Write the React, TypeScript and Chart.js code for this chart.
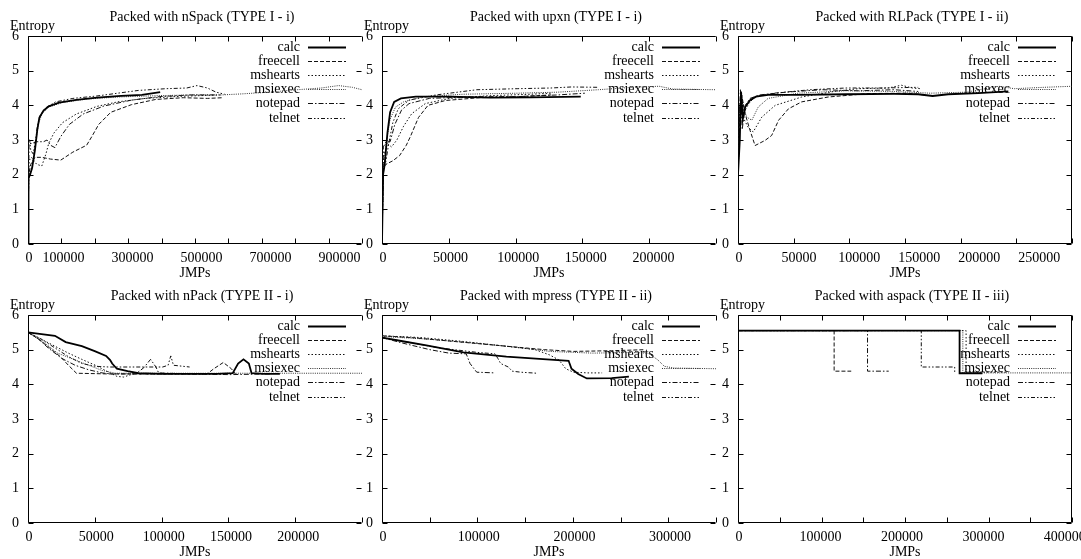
import React, { useEffect, useRef } from 'react';
import { Chart, registerables } from 'chart.js';

Chart.register(...registerables);

const FONT = '"Liberation Serif", "Times New Roman", Times, serif';

// ---------- data ----------
const seriesNames = ['calc', 'freecell', 'mshearts', 'msiexec', 'notepad', 'telnet'];

const panelTitles = [
  'Packed with nSpack (TYPE I - i)',
  'Packed with upxn (TYPE I - i)',
  'Packed with RLPack (TYPE I - ii)',
  'Packed with nPack (TYPE II - i)',
  'Packed with mpress (TYPE II - ii)',
  'Packed with aspack (TYPE II - iii)',
];

const xMaxValues = [968000, 247000, 278000, 248000, 349000, 410000];
const xTickSteps = [100000, 50000, 50000, 50000, 50000, 50000];

const nspackTickLabels = [0, 100000, 300000, 500000, 700000, 900000];
const upxnTickLabels = [0, 50000, 100000, 150000, 200000];
const rlpackTickLabels = [0, 50000, 100000, 150000, 200000, 250000];
const npackTickLabels = [0, 50000, 100000, 150000, 200000];
const mpressTickLabels = [0, 100000, 200000, 300000];
const aspackTickLabels = [0, 100000, 200000, 300000, 400000];
const yTickLabels = [0, 1, 2, 3, 4, 5, 6];

// nSpack (TYPE I - i)
const nspackCalc = [[0, 0], [1500, 1.9], [6000, 2.0], [12000, 2.2], [20000, 2.7], [27000, 3.3], [33000, 3.65], [45000, 3.85], [60000, 3.97], [90000, 4.08], [140000, 4.16], [200000, 4.22], [270000, 4.27], [330000, 4.3], [383000, 4.38]];
const nspackFreecell = [[0, 0], [2000, 2.0], [8000, 2.3], [20000, 2.5], [40000, 2.5], [65000, 2.45], [95000, 2.42], [130000, 2.65], [170000, 2.85], [185000, 3.1], [205000, 3.45], [240000, 3.8], [300000, 4.02], [370000, 4.17], [450000, 4.22], [520000, 4.2], [565000, 4.22]];
const nspackMshearts = [[0, 0], [2500, 2.4], [10000, 2.5], [25000, 2.3], [40000, 2.25], [52000, 2.6], [60000, 2.9], [75000, 3.2], [100000, 3.5], [140000, 3.75], [200000, 3.97], [260000, 4.1], [340000, 4.2], [440000, 4.26], [560000, 4.3]];
const nspackMsiexec = [[0, 0], [2000, 2.0], [10000, 2.1], [22000, 2.9], [30000, 3.45], [40000, 3.75], [60000, 3.95], [100000, 4.08], [170000, 4.18], [260000, 4.24], [380000, 4.28], [480000, 4.3], [560000, 4.3], [620000, 4.33], [700000, 4.38], [780000, 4.45], [850000, 4.5], [900000, 4.57], [940000, 4.52], [968000, 4.45]];
const nspackNotepad = [[0, 0], [3000, 2.9], [10000, 2.9], [25000, 2.95], [45000, 2.95], [55000, 3.0], [65000, 2.85], [78000, 2.78], [95000, 3.1], [120000, 3.45], [160000, 3.75], [220000, 3.98], [300000, 4.15], [380000, 4.25], [470000, 4.3], [540000, 4.3]];
const nspackTelnet = [[0, 0], [1500, 3.0], [5000, 3.0], [8000, 2.7], [15000, 2.6], [22000, 3.0], [28000, 3.45], [35000, 3.7], [50000, 3.92], [80000, 4.1], [130000, 4.2], [200000, 4.27], [260000, 4.35], [320000, 4.43], [400000, 4.48], [460000, 4.5], [490000, 4.57], [520000, 4.5], [545000, 4.38], [570000, 4.32]];

// upxn (TYPE I - i)
const upxnCalc = [[0, 0], [800, 2.0], [2000, 2.3], [4000, 3.2], [6000, 3.8], [9000, 4.1], [14000, 4.2], [25000, 4.25], [50000, 4.25], [80000, 4.22], [110000, 4.23], [147000, 4.25]];
const upxnFreecell = [[0, 0], [1000, 2.2], [3000, 2.3], [8000, 2.4], [13000, 2.55], [18000, 2.85], [21000, 3.1], [27000, 3.65], [34000, 4.0], [47000, 4.14], [72000, 4.22], [100000, 4.25], [125000, 4.3]];
const upxnMshearts = [[0, 0], [1000, 2.5], [4000, 2.9], [7000, 2.8], [11000, 3.0], [16000, 3.4], [22000, 3.76], [32000, 4.05], [50000, 4.2], [80000, 4.28], [110000, 4.32], [125000, 4.35]];
const upxnMsiexec = [[0, 0], [1000, 2.0], [3000, 2.9], [6000, 3.6], [10000, 3.95], [16000, 4.1], [30000, 4.25], [60000, 4.32], [100000, 4.35], [130000, 4.38], [160000, 4.45], [185000, 4.52], [205000, 4.55], [215000, 4.47], [247000, 4.45]];
const upxnNotepad = [[0, 0], [1000, 2.8], [3000, 2.95], [6000, 2.95], [9500, 3.45], [14400, 3.86], [20000, 4.05], [35000, 4.2], [70000, 4.25], [100000, 4.25], [130000, 4.3], [150000, 4.35]];
const upxnTelnet = [[0, 0], [800, 2.3], [2500, 2.3], [5000, 2.9], [8000, 3.5], [12000, 3.9], [20000, 4.15], [40000, 4.3], [70000, 4.45], [100000, 4.48], [125000, 4.5], [140000, 4.53], [160000, 4.52]];

// RLPack (TYPE I - ii)
const rlpackCalc = [[0, 2.0], [1500, 3.0], [2500, 4.4], [4000, 3.6], [6000, 3.95], [10000, 4.15], [15000, 4.25], [25000, 4.3], [50000, 4.3], [90000, 4.32], [130000, 4.33], [150000, 4.32], [162000, 4.27], [175000, 4.32], [200000, 4.35], [225000, 4.4]];
const rlpackFreecell = [[0, 2.0], [1500, 3.5], [3000, 4.3], [5900, 3.76], [10000, 3.28], [14200, 2.84], [22600, 2.99], [28000, 3.13], [33800, 3.57], [42000, 3.9], [53000, 4.1], [75000, 4.24], [109000, 4.34], [140000, 4.35], [155000, 4.3]];
const rlpackMshearts = [[0, 2.0], [1200, 3.8], [2500, 4.3], [5000, 3.6], [8400, 3.37], [12600, 3.23], [19800, 3.66], [31000, 4.0], [53000, 4.24], [80000, 4.4], [100000, 4.48], [125000, 4.5], [136000, 4.58], [145000, 4.5], [152000, 4.48]];
const rlpackMsiexec = [[0, 2.0], [1500, 3.4], [3000, 4.35], [5000, 3.9], [7300, 3.66], [11500, 3.57], [16800, 3.95], [25000, 4.2], [50000, 4.35], [90000, 4.42], [130000, 4.4], [160000, 4.35], [190000, 4.38], [217000, 4.55], [230000, 4.48], [255000, 4.52], [278000, 4.55]];
const rlpackNotepad = [[0, 2.0], [1000, 3.5], [2000, 4.45], [3500, 3.3], [6000, 4.0], [10000, 4.2], [18000, 4.3], [40000, 4.38], [70000, 4.45], [100000, 4.42], [130000, 4.45], [150000, 4.4]];
const rlpackTelnet = [[0, 2.0], [1500, 4.0], [3000, 4.2], [5000, 3.8], [9000, 4.05], [14000, 4.25], [30000, 4.35], [60000, 4.45], [90000, 4.5], [120000, 4.5], [150000, 4.52]];

// nPack (TYPE II - i)
const npackCalc = [[0, 5.5], [10000, 5.45], [20000, 5.4], [28000, 5.22], [40000, 5.1], [50000, 4.95], [58000, 4.82], [61000, 4.7], [62500, 4.6], [66000, 4.45], [74000, 4.38], [82000, 4.32], [100000, 4.3], [140000, 4.3], [152000, 4.32], [156000, 4.6], [160000, 4.72], [164000, 4.6], [166000, 4.32], [175000, 4.3], [187000, 4.3]];
const npackFreecell = [[0, 5.5], [8000, 5.3], [16000, 5.05], [24000, 4.8], [30000, 4.55], [36000, 4.32], [60000, 4.3], [100000, 4.3], [133000, 4.3], [138000, 4.45], [145000, 4.63], [151000, 4.45], [154000, 4.3]];
const npackMshearts = [[0, 5.5], [10000, 5.3], [20000, 5.1], [30000, 4.9], [40000, 4.72], [50000, 4.55], [60000, 4.35], [66000, 4.23], [71000, 4.21], [78000, 4.3], [110000, 4.3], [130000, 4.3]];
const npackMsiexec = [[0, 5.5], [12000, 5.2], [22000, 4.9], [32000, 4.75], [45000, 4.55], [55000, 4.4], [65000, 4.32], [100000, 4.32], [150000, 4.32], [200000, 4.32], [248000, 4.32]];
const npackNotepad = [[0, 5.5], [8000, 5.3], [15000, 5.05], [25000, 4.75], [35000, 4.55], [45000, 4.42], [55000, 4.33], [62000, 4.3], [80000, 4.3], [86000, 4.48], [91000, 4.72], [95000, 4.5], [97000, 4.33], [120000, 4.3], [150000, 4.28], [180000, 4.3]];
const npackTelnet = [[0, 5.5], [10000, 5.3], [20000, 5.05], [30000, 4.8], [40000, 4.6], [50000, 4.52], [60000, 4.5], [80000, 4.5], [100000, 4.5], [104000, 4.55], [106000, 4.82], [108000, 4.55], [120000, 4.5]];

// mpress (TYPE II - ii)
const mpressCalc = [[0, 5.35], [20000, 5.25], [45000, 5.13], [85000, 4.92], [130000, 4.8], [172000, 4.72], [195000, 4.68], [198000, 4.45], [205000, 4.3], [214000, 4.17], [240000, 4.18], [258000, 4.22]];
const mpressFreecell = [[0, 5.4], [30000, 5.35], [70000, 5.25], [110000, 5.15], [150000, 5.05], [170000, 5.0], [200000, 4.95], [240000, 4.97], [275000, 5.0]];
const mpressMshearts = [[0, 5.4], [40000, 5.35], [80000, 5.25], [120000, 5.13], [160000, 5.0], [175000, 4.85], [185000, 4.7], [192000, 4.45], [200000, 4.35], [215000, 4.33], [230000, 4.33]];
const mpressMsiexec = [[0, 5.38], [50000, 5.3], [100000, 5.18], [140000, 5.07], [175000, 4.95], [220000, 4.9], [260000, 4.92], [278000, 4.9], [288000, 4.71], [295000, 4.52], [305000, 4.47], [349000, 4.45]];
const mpressNotepad = [[0, 5.35], [20000, 5.2], [50000, 5.0], [70000, 4.9], [88000, 4.88], [92000, 4.6], [97000, 4.42], [99000, 4.35], [118000, 4.33]];
const mpressTelnet = [[0, 5.35], [30000, 5.2], [60000, 5.05], [100000, 4.92], [118000, 4.88], [121000, 4.75], [124000, 4.6], [132000, 4.5], [136000, 4.38], [145000, 4.35], [162000, 4.32]];

// aspack (TYPE II - iii)
const aspackCalc = [[0, 5.55], [272000, 5.55], [272000, 4.32], [300000, 4.32]];
const aspackFreecell = [[0, 5.55], [118000, 5.55], [118000, 4.38], [139000, 4.38]];
const aspackMshearts = [[0, 5.55], [280000, 5.55], [280000, 4.35], [330000, 4.35]];
const aspackMsiexec = [[0, 5.55], [276000, 5.55], [276000, 4.33], [410000, 4.33]];
const aspackNotepad = [[0, 5.55], [159000, 5.55], [159000, 4.38], [185000, 4.38]];
const aspackTelnet = [[0, 5.55], [225000, 5.55], [225000, 4.5], [266000, 4.5], [266000, 4.35]];

const panelSeries = [
  [nspackCalc, nspackFreecell, nspackMshearts, nspackMsiexec, nspackNotepad, nspackTelnet],
  [upxnCalc, upxnFreecell, upxnMshearts, upxnMsiexec, upxnNotepad, upxnTelnet],
  [rlpackCalc, rlpackFreecell, rlpackMshearts, rlpackMsiexec, rlpackNotepad, rlpackTelnet],
  [npackCalc, npackFreecell, npackMshearts, npackMsiexec, npackNotepad, npackTelnet],
  [mpressCalc, mpressFreecell, mpressMshearts, mpressMsiexec, mpressNotepad, mpressTelnet],
  [aspackCalc, aspackFreecell, aspackMshearts, aspackMsiexec, aspackNotepad, aspackTelnet],
];
const panelTickLabels = [nspackTickLabels, upxnTickLabels, rlpackTickLabels, npackTickLabels, mpressTickLabels, aspackTickLabels];

// ---------- styles ----------
const lineColors = ['#000000', '#111111', '#111111', '#333333', '#111111', '#111111'];
const lineWidths = [1.8, 1, 1, 1, 1, 1];
const lineDashes = [[], [4, 2], [1.5, 2], [1, 1.2], [5, 2, 1.5, 2], [4, 2, 1.5, 2, 1.5, 2]];

const CANVAS_W = 404;
const CANVAS_H = 290;
const colLefts = [0, 354, 710];
const rowTops = [0, 279];
const rightBorders = [false, false, true, false, false, true];

function makeFramePlugin(xLabelValues: number[], rightBorder: boolean, yTitle: string) {
  return {
    id: 'gnuframe',
    beforeDatasetsDraw(chart: any) {
      const { ctx, chartArea: a, scales } = chart;
      const xs = scales.x;
      const ys = scales.y;
      ctx.save();
      ctx.strokeStyle = '#000';
      ctx.lineWidth = 1;
      ctx.setLineDash([]);
      const L = a.left + 0.5;
      const R = a.right - 0.5;
      const T = a.top + 0.5;
      const B = a.bottom - 0.5;
      const tl = 5;
      ctx.beginPath();
      ctx.moveTo(R, T);
      ctx.lineTo(L, T);
      ctx.lineTo(L, B);
      ctx.lineTo(R, B);
      if (rightBorder) ctx.lineTo(R, T);
      for (const t of xs.ticks) {
        const px = Math.round(xs.getPixelForValue(t.value)) + 0.5;
        ctx.moveTo(px, B);
        ctx.lineTo(px, B - tl);
        ctx.moveTo(px, T);
        ctx.lineTo(px, T + tl);
      }
      for (const t of ys.ticks) {
        const py = Math.round(ys.getPixelForValue(t.value)) + 0.5;
        ctx.moveTo(L, py);
        ctx.lineTo(L + tl, py);
        ctx.moveTo(R, py);
        ctx.lineTo(R - tl, py);
      }
      ctx.stroke();

      ctx.fillStyle = '#000';
      ctx.font = `14px ${FONT}`;
      ctx.textBaseline = 'middle';
      ctx.textAlign = 'left';
      ctx.fillText(yTitle, a.left - 18, a.top - 10);

      // x tick labels, positioned through the x scale
      ctx.textAlign = 'center';
      for (let k = 0; k < xLabelValues.length; k++) {
        const v = xLabelValues[k];
        const px = xs.getPixelForValue(v) + 1;
        ctx.fillText(v.toFixed(0), px, a.bottom + 14.5);
      }

      chart.data.datasets.forEach((ds: any, i: number) => {
        const yy = Math.round(a.top + 11 + i * 14.1) + 0.5;
        ctx.textAlign = 'right';
        ctx.fillStyle = '#000';
        ctx.fillText(ds.label, a.right - 62, yy);
        ctx.setLineDash(ds.borderDash || []);
        ctx.lineWidth = ds.borderWidth;
        ctx.strokeStyle = ds.borderColor;
        ctx.beginPath();
        ctx.moveTo(a.right - 54, yy);
        ctx.lineTo(a.right - 16, yy);
        ctx.stroke();
      });
      ctx.restore();
    },
  };
}

function Panel({ index }: { index: number }) {
  const ref = useRef<HTMLCanvasElement>(null);
  useEffect(() => {
    const font = { family: FONT, size: 14, weight: 'normal' as const };
    const chart = new Chart(ref.current!, {
      type: 'line',
      data: {
        datasets: panelSeries[index].map((s, i) => ({
          label: seriesNames[i],
          data: s.map(([x, y]) => ({ x, y })),
          borderColor: lineColors[i],
          borderWidth: lineWidths[i],
          borderDash: lineDashes[i],
          pointRadius: 0,
          tension: 0,
          fill: false,
          xAxisID: 'x',
          yAxisID: 'y',
        })),
      },
      options: {
        animation: false,
        responsive: false,
        maintainAspectRatio: false,
        layout: { padding: 0 },
        events: [],
        plugins: {
          legend: { display: false },
          tooltip: { enabled: false },
          title: {
            display: true,
            text: panelTitles[index],
            font,
            color: '#000',
            padding: { top: 8.8, bottom: 10.4 },
          },
        } as any,
        scales: {
          x: {
            type: 'linear',
            position: 'bottom',
            min: 0,
            max: xMaxValues[index],
            grid: { display: false, drawTicks: false, tickLength: 0 },
            border: { display: false },
            ticks: {
              display: false,
              stepSize: xTickSteps[index],
              autoSkip: false,
              maxRotation: 0,
              minRotation: 0,
              includeBounds: false,
            },
            title: { display: true, text: 'JMPs', font, color: '#000', padding: { top: 0, bottom: 8 } },
            afterFit: (s: any) => { s.height = 46; },
          },
          y: {
            type: 'linear',
            position: 'left',
            min: 0,
            max: 6,
            grid: { display: false, drawTicks: false, tickLength: 0 },
            border: { display: false },
            ticks: {
              stepSize: 1,
              padding: 9,
              font,
              color: '#000',
              callback: (v: any) => (yTickLabels.includes(Number(v)) ? String(v) : ''),
            },
            afterFit: (s: any) => { s.width = 28; },
          },
          y2: {
            type: 'linear',
            position: 'right',
            display: true,
            grid: { display: false, drawTicks: false, tickLength: 0 },
            border: { display: false },
            ticks: { display: false },
            afterFit: (s: any) => { s.width = CANVAS_W - 362; },
          },
        } as any,
      },
      plugins: [makeFramePlugin(panelTickLabels[index], rightBorders[index], 'Entropy')],
    });
    return () => chart.destroy();
  }, [index]);
  const col = index % 3;
  const row = Math.floor(index / 3);
  return (
    <canvas
      ref={ref}
      width={CANVAS_W}
      height={CANVAS_H}
      style={{ position: 'absolute', left: colLefts[col], top: rowTops[row], width: CANVAS_W, height: CANVAS_H, display: 'block' }}
    />
  );
}

export default function App() {
  return (
    <div style={{ position: 'fixed', left: 0, top: 0, width: 1081, height: 559, overflow: 'hidden', background: '#fff' }}>
      {[0, 1, 2, 3, 4, 5].map((i) => (
        <Panel key={i} index={i} />
      ))}
    </div>
  );
}
